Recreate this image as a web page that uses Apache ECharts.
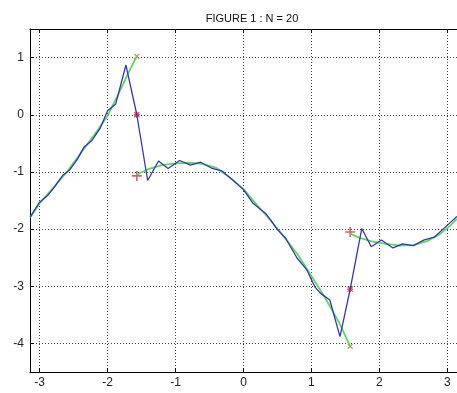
<!DOCTYPE html>
<html>
<head>
<meta charset="utf-8">
<script src="https://cdn.jsdelivr.net/npm/echarts@6/dist/echarts.min.js"></script>
<style>
  html, body { margin: 0; padding: 0; background: #fff; }
  #chart { width: 457px; height: 393px; }
</style>
</head>
<body>
<div id="chart"></div>
<script>
// partial sum (blue)
const blueX = [-3.14, -3.00, -2.88, -2.78, -2.66, -2.56, -2.44, -2.35, -2.23, -2.11, -2.00, -1.88, -1.73, -1.57, -1.41,
  -1.25, -1.11, -0.94, -0.78, -0.63, -0.46, -0.32, -0.15, 0.00, 0.14, 0.33, 0.50, 0.62, 0.79, 0.93, 1.05, 1.13,
  1.27, 1.42, 1.57, 1.74, 1.88, 2.03, 2.20, 2.34, 2.50, 2.66, 2.81, 3.03, 3.14];
const blueY = [-1.79, -1.53, -1.41, -1.26, -1.06, -0.97, -0.77, -0.57, -0.45, -0.24, 0.07, 0.19, 0.87, 0.00, -1.15,
  -0.81, -0.94, -0.80, -0.88, -0.83, -0.94, -0.98, -1.15, -1.31, -1.55, -1.73, -2.01, -2.16, -2.51, -2.71, -3.01, -3.12,
  -3.24, -3.88, -3.05, -1.99, -2.31, -2.19, -2.33, -2.26, -2.29, -2.19, -2.14, -1.90, -1.78];

// function pieces (green)
const leftX = [-3.14, -3.00, -2.80, -2.60, -2.40, -2.20, -2.00, -1.80, -1.70, -1.57];
const leftY = [-1.80, -1.55, -1.28, -1.00, -0.68, -0.36, -0.02, 0.46, 0.72, 1.02];
const midX = [-1.57, -1.40, -1.20, -1.00, -0.80, -0.60, -0.40, -0.20, 0.00, 0.20, 0.40, 0.60, 0.80, 1.00, 1.20, 1.40, 1.57];
const midY = [-1.05, -0.95, -0.88, -0.85, -0.84, -0.86, -0.93, -1.10, -1.30, -1.58, -1.85, -2.14, -2.45, -2.82, -3.20, -3.62, -4.05];
const rightX = [1.57, 1.70, 1.90, 2.10, 2.30, 2.50, 2.70, 2.90, 3.05, 3.14];
const rightY = [-2.08, -2.15, -2.22, -2.26, -2.29, -2.28, -2.21, -2.08, -1.93, -1.82];

// markers at the jumps
const leftLimits = [[-1.57, 1.02], [1.57, -4.05]];
const midPoints = [[-1.57, 0.00], [1.57, -3.05]];
const rightLimits = [[-1.57, -1.07], [1.57, -2.05]];

const zip = (xs, ys) => xs.map((x, i) => [x, ys[i]]);

const plusPath = 'path://M0,4.2H10V5.8H0Z M4.2,0H5.8V10H4.2Z';
const starPath = 'path://M0,3.8H10V6.2H0Z M3.8,0H6.2V10H3.8Z M1.5,0L10,8.5L8.5,10L0,1.5Z M8.5,0L10,1.5L1.5,10L0,8.5Z';

const myChart = echarts.init(document.getElementById('chart'));
const labelStyle = { color: '#222', fontSize: 12, fontFamily: 'Liberation Sans, Arial, sans-serif' };
const gridLine = { show: true, lineStyle: { color: '#444', type: [1, 2], width: 1 } };

const chartOption = {
  animation: false,
  title: {
    text: 'FIGURE 1 : N = 20',
    left: 247,
    top: 8,
    textAlign: 'center',
    textStyle: { color: '#111', fontSize: 11, fontWeight: 'normal', fontFamily: 'Liberation Sans, Arial, sans-serif' }
  },
  grid: { left: 30, top: 29, width: 434, bottom: 21 },
  xAxis: [{
    type: 'value',
    min: -Math.PI,
    max: Math.PI,
    splitNumber: 6,
    axisLine: { show: true, onZero: false, lineStyle: { color: '#000', width: 1 } },
    axisTick: { show: true, inside: true, length: 4, lineStyle: { color: '#000' } },
    axisLabel: Object.assign({ margin: 5, showMinLabel: false, showMaxLabel: false }, labelStyle),
    splitLine: gridLine
  }, {
    type: 'value',
    position: 'top',
    min: -Math.PI,
    max: Math.PI,
    splitNumber: 6,
    axisLine: { show: true, onZero: false, lineStyle: { color: '#000', width: 1 } },
    axisTick: { show: true, inside: true, length: 4, lineStyle: { color: '#000' } },
    axisLabel: { show: false },
    splitLine: { show: false }
  }],
  yAxis: {
    type: 'value',
    min: -4.5,
    max: 1.5,
    splitNumber: 6,
    axisLine: { show: true, onZero: false, lineStyle: { color: '#000', width: 1 } },
    axisTick: { show: true, inside: true, length: 4, lineStyle: { color: '#000' } },
    axisLabel: Object.assign({ margin: 6, showMinLabel: false, showMaxLabel: false }, labelStyle),
    splitLine: gridLine
  },
  series: [
    { type: 'line', data: zip(leftX, leftY), symbol: 'none', lineStyle: { color: '#5bdc55', width: 1.8 } },
    { type: 'line', data: zip(midX, midY), symbol: 'none', lineStyle: { color: '#5bdc55', width: 1.8 } },
    { type: 'line', data: zip(rightX, rightY), symbol: 'none', lineStyle: { color: '#5bdc55', width: 1.8 } },
    { type: 'line', data: zip(blueX, blueY), symbol: 'none', lineStyle: { color: '#3434c4', width: 1.3 } },
    { type: 'scatter', data: leftLimits, symbol: plusPath, symbolRotate: 45, symbolSize: 7, itemStyle: { color: '#c8603a' } },
    { type: 'scatter', data: midPoints, symbol: starPath, symbolSize: 6, itemStyle: { color: '#e0202a' } },
    { type: 'scatter', data: rightLimits, symbol: plusPath, symbolSize: 10, itemStyle: { color: '#e03040' } }
  ]
};
myChart.setOption(chartOption);
</script>
</body>
</html>
